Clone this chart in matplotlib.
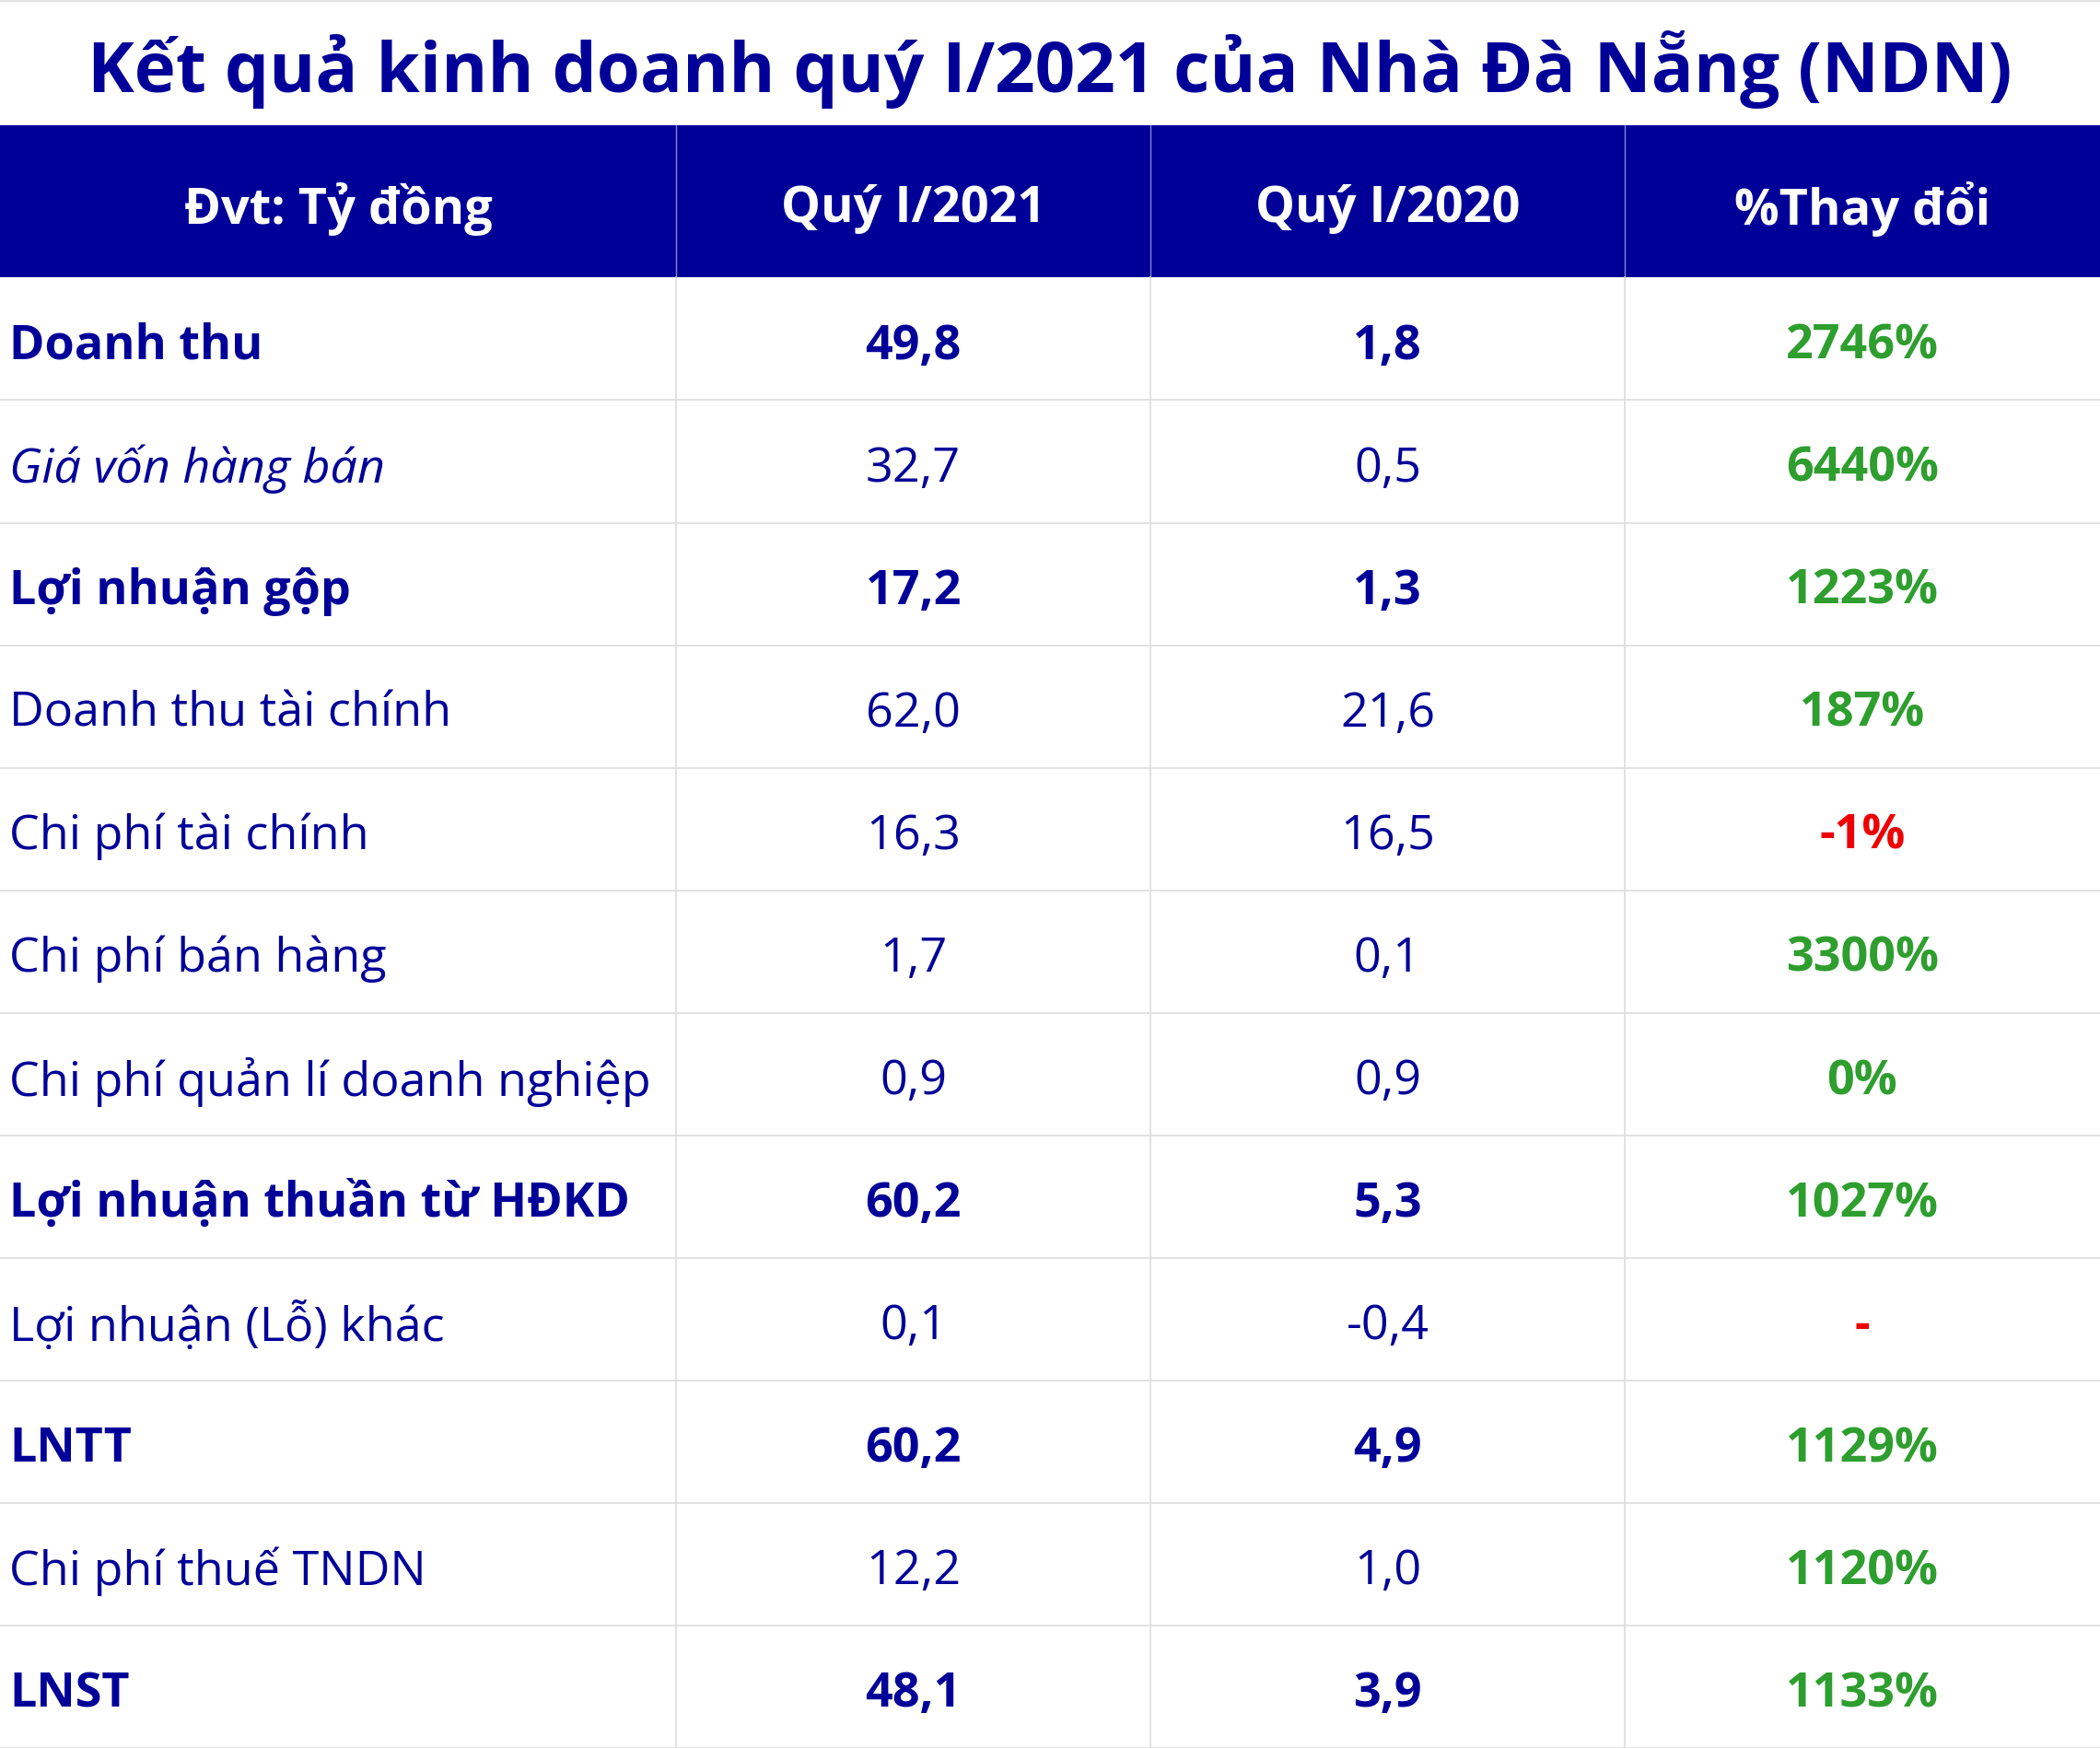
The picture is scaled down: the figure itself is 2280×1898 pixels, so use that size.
import matplotlib
matplotlib.use("Agg")
import matplotlib.pyplot as plt
from matplotlib.patches import Rectangle

title = "Kết quả kinh doanh quý I/2021 của Nhà Đà Nẵng (NDN)"
headers = ["Đvt: Tỷ đồng", "Quý I/2021", "Quý I/2020", "%Thay đổi"]
items = ["Doanh thu", "Giá vốn hàng bán", "Lợi nhuận gộp", "Doanh thu tài chính",
         "Chi phí tài chính", "Chi phí bán hàng", "Chi phí quản lí doanh nghiệp",
         "Lợi nhuận thuần từ HĐKD", "Lợi nhuận (Lỗ) khác", "LNTT",
         "Chi phí thuế TNDN", "LNST"]
q1_2021 = ["49,8", "32,7", "17,2", "62,0", "16,3", "1,7", "0,9", "60,2", "0,1", "60,2", "12,2", "48,1"]
q1_2020 = ["1,8", "0,5", "1,3", "21,6", "16,5", "0,1", "0,9", "5,3", "-0,4", "4,9", "1,0", "3,9"]
change = ["2746%", "6440%", "1223%", "187%", "-1%", "3300%", "0%", "1027%", "-", "1129%", "1120%", "1133%"]
bold_rows = [True, False, True, False, False, False, False, True, False, True, False, True]
italic_rows = [False, True, False, False, False, False, False, False, False, False, False, False]

NAVY = "#000099"
GREEN = "#2e9e2e"
RED = "#ee0000"
FONT = "Open Sans"

fig = plt.figure(figsize=(22.8, 18.99), dpi=100)
ax = fig.add_axes([0, 0, 1, 1])
W, H = 1568, 1306
ax.set_xlim(0, W)
ax.set_ylim(H, 0)
ax.axis("off")

ax.text(W / 2, 52, title, ha="center", va="center", fontsize=55, fontweight="bold",
        color=NAVY, family=FONT)

cols = [0, 505, 859, 1213, 1568]
hy0, hy1 = 94, 208
ax.add_patch(Rectangle((0, hy0), W, hy1 - hy0, color=NAVY, lw=0))
for i, h in enumerate(headers):
    ax.text((cols[i] + cols[i + 1]) / 2, (hy0 + hy1) / 2 + 5, h, ha="center", va="center",
            fontsize=39, fontweight="bold", color="white", family=FONT)
for c in cols[1:-1]:
    ax.plot([c, c], [hy0, hy1], color="#8888cc", lw=1)

rh = (H - hy1) / len(items)
for r in range(len(items)):
    y0 = hy1 + r * rh
    yc = y0 + rh / 2 + 5
    fw = "bold" if bold_rows[r] else "normal"
    st = "italic" if italic_rows[r] else "normal"
    ax.text(7, yc, items[r], ha="left", va="center", fontsize=37.5, fontweight=fw,
            fontstyle=st, color=NAVY, family=FONT)
    ax.text((cols[1] + cols[2]) / 2, yc, q1_2021[r], ha="center", va="center",
            fontsize=37.5, fontweight=fw, color=NAVY, family=FONT)
    ax.text((cols[2] + cols[3]) / 2, yc, q1_2020[r], ha="center", va="center",
            fontsize=37.5, fontweight=fw, color=NAVY, family=FONT)
    col = RED if change[r].startswith("-") else GREEN
    ax.text((cols[3] + cols[4]) / 2, yc, change[r], ha="center", va="center",
            fontsize=37.5, fontweight="bold", color=col, family=FONT)
    ax.plot([0, W], [y0 + rh, y0 + rh], color="#dddddd", lw=1.2)
for c in cols[1:-1]:
    ax.plot([c, c], [hy1, H], color="#dddddd", lw=1.2)
ax.plot([0, W], [1.5, 1.5], color="#dddddd", lw=1.2)

fig.savefig("out.png", dpi=100, facecolor="white")
